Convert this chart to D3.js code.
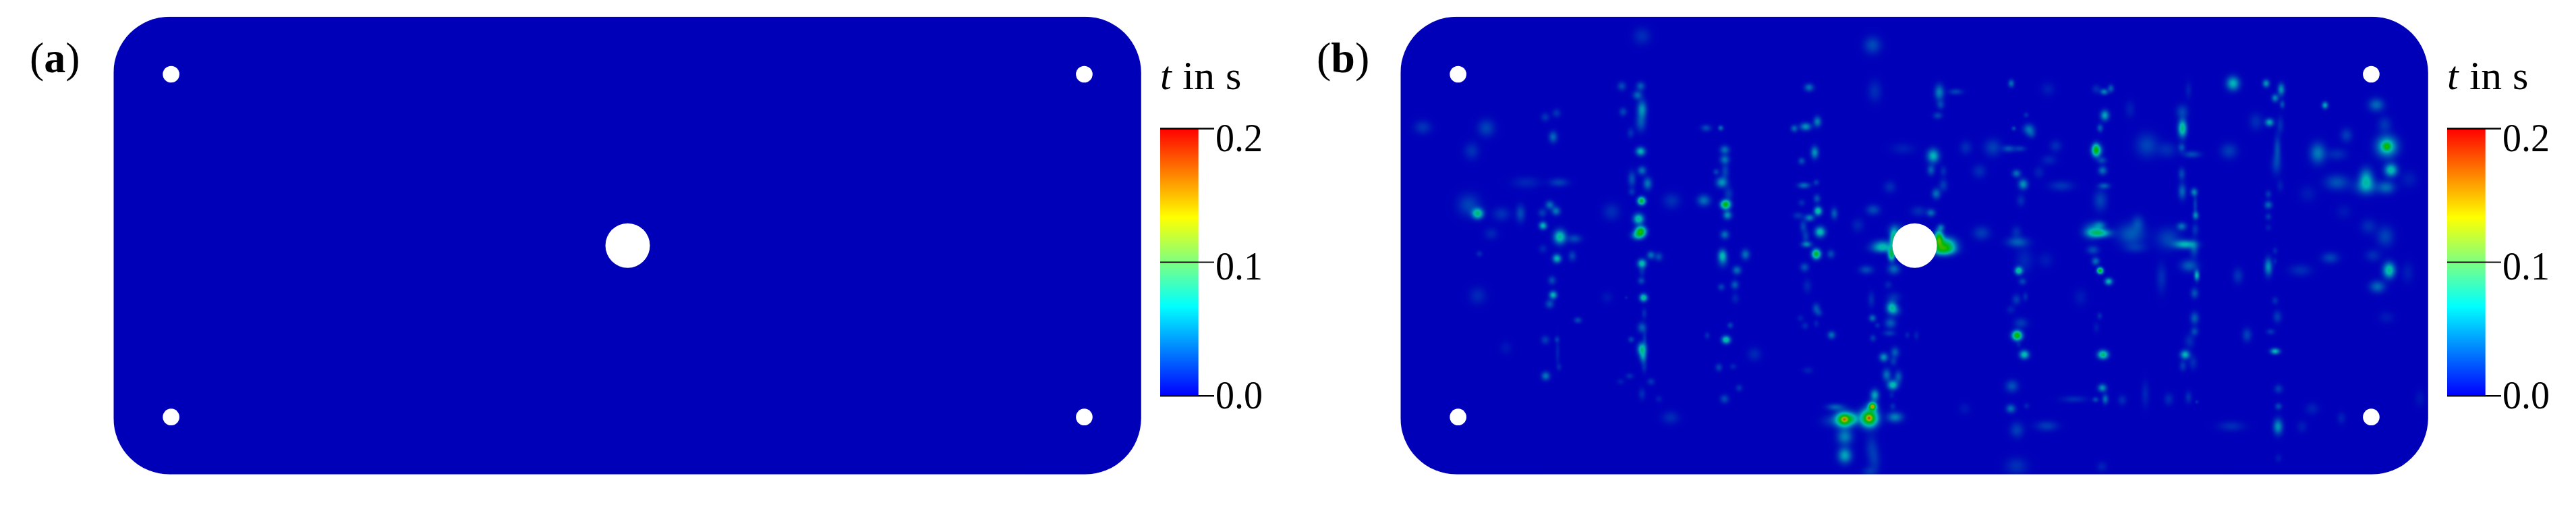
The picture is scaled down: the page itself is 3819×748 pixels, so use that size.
<!DOCTYPE html>
<html><head><meta charset="utf-8">
<script src="https://cdn.jsdelivr.net/npm/d3@7/dist/d3.min.js"></script>
<style>html,body{margin:0;padding:0;background:#fff;overflow:hidden}svg{display:block}text{font-family:"Liberation Serif",serif;fill:#000}</style>
</head><body><svg id="c" width="3819" height="748"></svg>
<script>
// Plate is measured in plate units; hot spots are read per region of the picture
// each row: [u, v, t in s, spread u, spread v], u and v local to the region's origin
const plateSize = [4569, 2034];
const cornerRadiusUnits = 250;
const mountHoles = [[256,256,37],[4316,256,37],[256,1779,37],[4316,1779,37],[2286,1017,99]];
const panelLabels = ["a","b"];
const tickValues = [0, 0.1, 0.2];
const colorbarStops = ["#0000ff","#00ffff","#ffff00","#ff0000"];
const fieldStops = ["#0000b8","#00b8b8","#00b800","#b8b800","#b80000"];
const fieldDomain = [0,0.05,0.1,0.15,0.2];
const regionOrigins = [[-18,-15],[1542,-15],[3042,-15],[-18,1020],[1542,1020],[3042,1020]];

const spotsTopLeft = [[1090,100,.012,20,20],[1000,322,.02,10,10],[1084,322,.025,10,10],[1070,362,.027,11,10],[1090,425,.04,11,20],[1006,436,.018,9,10],[1085,485,.022,12,20],[115,505,.014,20,16],[398,508,.018,20,20],[660,460,.014,10,10],[710,442,.014,10,10],[695,548,.028,10,13],[1040,530,.013,8,12],[1084,612,.05,11,10],[333,610,.013,18,20],[1090,697,.03,10,10],[1045,735,.022,9,18],[1115,755,.032,10,14],[1045,792,.014,8,8],[575,750,.01,32,14],[720,750,.017,22,10],[1088,832,.09,9,9],[1075,912,.06,12,12],[1085,966,.095,12,11],[1072,985,.05,14,10],[360,888,.065,13,12],[320,850,.018,26,26],[465,890,.013,20,16],[550,888,.02,11,20],[680,850,.03,10,10],[708,877,.032,10,10],[647,885,.016,10,10],[650,942,.05,9,9],[725,992,.06,14,16],[790,1000,.02,16,10],[420,978,.01,16,14],[955,880,.012,20,20],[1222,832,.013,20,18],[1375,508,.02,12,8],[1440,508,.03,6,6],[1458,605,.03,11,10],[1458,648,.03,11,10],[1420,703,.018,7,7],[1460,700,.018,9,18],[1445,750,.04,13,12],[1365,830,.03,15,13],[1462,848,.1,11,10],[1470,895,.04,10,10],[1458,982,.03,10,10],[1475,800,.015,10,16]];

const spotsTopMiddle = [[555,140,.02,20,20],[273,328,.03,11,9],[565,345,.012,16,25],[852,350,.035,11,18],[925,347,.018,16,7],[858,405,.018,9,10],[845,453,.018,11,8],[1172,310,.03,7,9],[1335,335,.008,16,16],[310,480,.035,9,12],[258,502,.04,13,9],[207,510,.028,8,8],[298,617,.04,9,14],[240,655,.022,8,8],[825,632,.05,14,16],[815,695,.025,9,12],[870,700,.012,8,12],[632,770,.012,14,14],[250,763,.03,14,7],[305,750,.016,7,7],[870,762,.016,10,14],[838,800,.03,10,12],[308,822,.022,8,10],[240,840,.012,8,8],[313,877,.06,9,10],[275,907,.035,11,8],[385,888,.025,8,13],[225,897,.014,12,8],[247,945,.018,8,14],[322,970,.055,12,12],[258,990,.016,8,14],[262,1025,.035,12,7],[558,872,.02,16,12],[490,940,.01,14,16],[815,885,.028,10,9],[760,878,.012,18,12],[860,950,.028,8,8],[1238,450,.013,6,6],[1183,510,.022,5,5],[1250,513,.03,13,12],[1262,535,.015,10,10],[1090,595,.017,20,20],[970,595,.012,14,16],[690,600,.008,28,14],[1160,600,.022,14,8],[1210,600,.016,14,7],[1370,588,.012,14,14],[1340,650,.01,18,12],[1030,700,.012,16,16],[1195,710,.03,10,9],[1225,758,.04,11,12],[1295,705,.009,12,14],[1395,765,.014,28,12],[1215,830,.012,10,14],[1548,605,.05,8,14],[1040,975,.016,20,16],[1200,1015,.025,25,12],[1195,970,.012,12,14],[1530,965,.03,20,18],[600,1028,.035,24,12],[650,1000,.07,9,20],[850,1000,.1,10,18],[880,1025,.07,24,16],[660,960,.02,18,14]];

const spotsTopRight = [[85,347,.035,9,7],[115,332,.025,7,9],[50,335,.012,10,10],[88,452,.045,10,12],[67,508,.025,7,9],[200,425,.008,12,20],[52,607,.055,12,14],[75,652,.02,11,8],[78,697,.03,10,10],[85,765,.025,13,7],[68,830,.018,16,24],[65,975,.06,25,10],[65,940,.03,14,10],[205,980,.024,32,25],[235,930,.016,14,18],[275,585,.018,26,28],[365,605,.012,22,18],[432,435,.018,14,16],[433,510,.065,10,20],[430,595,.022,8,10],[475,625,.02,20,8],[430,712,.02,8,14],[432,790,.028,9,18],[485,793,.035,8,9],[490,850,.016,5,22],[492,897,.035,7,9],[430,945,.03,11,9],[370,1000,.018,28,25],[445,1025,.05,25,10],[490,960,.014,8,14],[460,340,.008,8,20],[658,310,.05,15,16],[640,610,.016,20,18],[805,310,.04,8,9],[872,337,.04,8,14],[845,375,.035,8,9],[877,403,.022,6,9],[820,483,.045,10,9],[760,480,.012,16,20],[868,495,.012,8,20],[855,600,.02,8,30],[850,670,.015,12,24],[868,765,.008,8,14],[815,802,.015,7,9],[815,850,.028,9,9],[815,902,.015,7,8],[815,950,.008,7,8],[1067,407,.045,7,8],[1295,405,.028,18,15],[1332,492,.014,16,18],[1162,540,.016,14,16],[1035,620,.033,18,24],[1120,625,.012,24,14],[1342,590,.06,24,24],[1342,590,.05,9,9],[1360,695,.055,15,15],[1250,735,.045,16,24],[1250,770,.025,28,18],[1120,750,.022,28,18],[1340,772,.028,20,15],[1440,735,.008,20,20],[990,800,.007,20,20],[1260,945,.012,18,18],[1335,990,.018,20,24],[1150,880,.006,18,18]];

const spotsBottomLeft = [[367,32,.012,7,7],[712,53,.05,10,10],[780,42,.018,9,12],[1090,75,.055,10,10],[1130,38,.03,9,9],[1165,45,.02,9,10],[1090,110,.012,7,12],[690,150,.02,9,10],[1087,152,.02,8,8],[695,215,.05,9,9],[680,255,.022,10,10],[360,218,.011,20,20],[1097,227,.06,9,9],[1020,227,.008,4,4],[1100,297,.012,6,12],[805,327,.02,9,7],[1090,360,.025,10,12],[1102,410,.012,5,20],[1042,413,.018,7,7],[660,415,.016,10,10],[712,413,.014,6,7],[715,470,.009,5,30],[722,535,.01,6,8],[1090,455,.06,10,14],[1095,490,.035,8,14],[1100,535,.012,6,14],[485,450,.006,14,16],[662,575,.032,10,10],[1035,575,.012,9,7],[995,600,.008,9,7],[1130,600,.014,9,8],[1090,655,.012,8,14],[1165,677,.008,8,8],[1217,760,.012,20,15],[1448,40,.05,10,14],[1550,35,.03,10,12],[1512,105,.03,10,10],[1503,170,.025,9,10],[1443,180,.018,8,8],[1505,230,.01,9,12],[1483,350,.018,7,7],[1380,395,.012,6,8],[1464,414,.06,10,9],[1432,537,.018,8,9],[1495,533,.01,8,7],[1522,628,.014,8,8],[1457,677,.02,10,10],[1450,70,.015,12,14],[650,10,.01,10,10],[935,225,.006,14,14]];

const spotsBottomMiddle = [[305,33,.09,10,11],[370,33,.02,9,10],[253,92,.022,10,10],[265,175,.01,10,16],[527,103,.02,16,10],[650,100,.028,14,12],[625,170,.01,9,9],[550,235,.012,8,18],[640,270,.05,12,14],[655,285,.02,14,12],[650,225,.012,16,12],[305,275,.022,9,12],[318,295,.013,8,8],[235,318,.008,8,8],[255,352,.011,8,8],[305,342,.009,6,8],[373,393,.03,9,9],[555,318,.03,8,8],[577,350,.012,6,6],[635,340,.025,13,12],[630,385,.016,14,7],[557,407,.016,7,8],[710,393,.009,6,8],[750,395,.009,6,10],[30,478,.011,16,16],[268,550,.009,12,8],[605,492,.04,10,10],[655,470,.025,10,12],[648,510,.015,8,10],[618,570,.03,10,14],[670,578,.025,9,14],[645,615,.055,12,11],[565,660,.045,10,13],[640,660,.008,6,8],[555,710,.1,7,7],[555,710,.05,12,12],[645,710,.012,7,8],[390,713,.025,20,8],[430,768,.11,20,17],[430,768,.06,8,7],[470,765,.03,14,14],[370,775,.012,24,14],[540,762,.12,20,20],[540,762,.06,7,7],[655,758,.035,18,12],[432,845,.035,18,18],[432,928,.045,16,18],[550,890,.012,14,30],[565,950,.012,14,30],[540,1000,.012,16,12],[965,720,.006,14,14],[1205,107,.06,9,9],[1222,155,.018,9,8],[1195,235,.016,10,12],[1235,222,.012,6,10],[1170,280,.009,10,10],[1215,340,.016,16,12],[1198,395,.08,10,10],[1198,395,.03,14,12],[1205,435,.008,6,7],[1230,480,.055,11,10],[1175,620,.022,15,14],[1170,720,.03,11,10],[1240,708,.009,7,7],[1197,815,.017,16,18],[1330,797,.016,26,12],[1195,975,.013,26,20],[1450,678,.012,30,8],[1230,60,.01,20,30],[1325,60,.007,18,18],[1480,225,.007,16,20],[640,35,.08,8,14],[870,15,.07,26,12],[600,10,.03,26,10]];

const spotsBottomRight = [[47,65,.03,9,9],[67,107,.1,7,7],[105,155,.05,9,8],[65,308,.012,6,8],[50,360,.007,7,12],[80,480,.07,12,10],[77,628,.04,10,9],[90,678,.03,7,11],[47,680,.02,7,6],[165,682,.012,10,12],[268,655,.01,9,30],[372,678,.012,11,14],[460,670,.013,8,14],[497,690,.012,4,4],[340,140,.012,12,34],[463,85,.025,20,14],[497,128,.05,6,12],[487,207,.022,9,12],[487,318,.025,10,14],[487,377,.02,9,10],[465,420,.012,12,16],[445,480,.05,11,10],[480,515,.012,10,16],[435,530,.016,8,12],[680,130,.014,12,18],[720,393,.018,11,16],[650,798,.012,30,12],[845,240,.012,8,9],[855,312,.016,10,14],[825,378,.014,10,7],[845,465,.05,11,7],[860,632,.016,10,10],[860,710,.02,8,8],[858,800,.04,11,18],[815,90,.04,9,20],[845,65,.008,5,8],[845,18,.01,6,8],[958,105,.012,26,14],[1090,50,.018,20,13],[1352,105,.06,14,18],[1300,178,.028,18,14],[1435,115,.008,14,24],[1340,315,.007,18,14],[1010,720,.009,16,14],[965,800,.008,12,14],[1140,762,.009,10,14],[1490,675,.006,12,20],[860,940,.007,8,10],[75,978,.009,12,12],[485,10,.02,10,20],[225,5,.012,26,12],[35,15,.02,14,10],[1280,40,.012,18,14]];

const regionSpots = [spotsTopLeft,spotsTopMiddle,spotsTopRight,spotsBottomLeft,spotsBottomMiddle,spotsBottomRight];
const platePanels = [[], regionSpots];   // panel (a) has a uniform field, panel (b) the read hot spots
const spreadFactor = 1.3;

const svg = d3.select("#c");
const defs = svg.append("defs");
const fieldColor = d3.scaleLinear().domain(fieldDomain).range(fieldStops).clamp(true);
const lut = d3.range(1024).map(i => d3.rgb(fieldColor(i/1023*0.2)));

const grad = defs.append("linearGradient").attr("id","cbar").attr("x1",0).attr("x2",0).attr("y1",1).attr("y2",0);
colorbarStops.forEach((c,i)=>grad.append("stop").attr("offset",i/(colorbarStops.length-1)).attr("stop-color",c));

const W = 1523.5, H = 678;
function fieldImage(regions, x, y){
  const w = Math.ceil(W), h = Math.ceil(H);
  const cv = document.createElement("canvas"); cv.width=w; cv.height=h;
  const ctx = cv.getContext("2d"); const img = ctx.createImageData(w,h);
  const f = new Float32Array(w*h);
  const x0 = x(0), y0 = y(0), kx = (x(1)-x(0)), ky = (y(1)-y(0));
  regions.forEach((list,ri)=>{
    const [ou,ov] = regionOrigins[ri];
    list.forEach(([u,v,t,su,sv])=>{
      const cx = x(u+ou)-x0, cy = y(v+ov)-y0, sx = su*kx*spreadFactor, sy = sv*ky*spreadFactor;
      const a = Math.max(0,Math.floor(cx-4*sx)), b = Math.min(w-1,Math.ceil(cx+4*sx));
      const c = Math.max(0,Math.floor(cy-4*sy)), d = Math.min(h-1,Math.ceil(cy+4*sy));
      for(let j=c;j<=d;j++) for(let i=a;i<=b;i++){
        const dx=(i-cx)/sx, dy=(j-cy)/sy;
        f[j*w+i]+=t*Math.exp(-0.5*(dx*dx+dy*dy));
      }
    });
  });
  for(let k=0;k<f.length;k++){
    const c = lut[Math.min(1023,Math.round(f[k]/0.2*1023))];
    img.data[4*k]=c.r; img.data[4*k+1]=c.g; img.data[4*k+2]=c.b; img.data[4*k+3]=255;
  }
  ctx.putImageData(img,0,0);
  return cv.toDataURL();
}

platePanels.forEach((regions,p)=>{
  const g = svg.append("g").attr("transform",`translate(${p*1908},0)`);
  const x = d3.scaleLinear().domain([0,plateSize[0]]).range([168.3,168.3+W]);
  const y = d3.scaleLinear().domain([0,plateSize[1]]).range([24.7,24.7+H]);
  const rx = x(cornerRadiusUnits)-x(0);
  const id = "clip"+p;
  defs.append("clipPath").attr("id",id).append("rect").attr("x",x(0)).attr("y",y(0)).attr("width",W).attr("height",H).attr("rx",rx).attr("ry",rx);
  g.append("g").attr("clip-path",`url(#${id})`).append("image")
    .attr("x",x(0)).attr("y",y(0)).attr("width",Math.ceil(W)).attr("height",Math.ceil(H))
    .attr("href",fieldImage(regions,x,y));
  g.selectAll("circle.hole").data(mountHoles).join("circle").attr("class","hole")
    .attr("cx",d=>x(d[0])).attr("cy",d=>y(d[1])).attr("r",d=>x(d[2])-x(0)).attr("fill","#fff");

  // panel label
  const lab = g.append("text").attr("x",44).attr("y",106.5).attr("font-size",64);
  lab.append("tspan").text("(");
  lab.append("tspan").attr("font-weight","bold").text(panelLabels[p]);
  lab.append("tspan").text(")");

  // colour bar
  const cb = d3.scaleLinear().domain([0,0.2]).range([585.7,190]);
  const barX = 1720, barW = 56.7;
  g.append("rect").attr("x",barX).attr("y",cb(0.2)).attr("width",barW).attr("height",cb(0)-cb(0.2)).attr("fill","url(#cbar)");
  const ax = g.append("g").attr("transform",`translate(${barX},0)`)
    .call(d3.axisRight(cb).tickValues(tickValues).tickSize(80).tickPadding(2).tickFormat(d3.format(".1f")));
  ax.select(".domain").remove();
  ax.selectAll(".tick line").attr("stroke","#000").attr("stroke-width",d=>d===0.1?1.6:2.4);
  ax.selectAll(".tick text").attr("font-size",60).attr("font-family","Liberation Serif").attr("fill","#000")
    .attr("textLength",70).attr("lengthAdjust","spacingAndGlyphs").attr("dy",d=>19+70*d+"px");

  // colour bar title
  const ty = 131.8;
  g.append("text").attr("x",1720).attr("y",ty).attr("font-size",60).attr("font-style","italic").text("t");
  g.append("text").attr("x",1753).attr("y",ty).attr("font-size",60).attr("textLength",48).attr("lengthAdjust","spacingAndGlyphs").text("in");
  g.append("text").attr("x",1817).attr("y",ty).attr("font-size",60).text("s");
});
</script></body></html>
